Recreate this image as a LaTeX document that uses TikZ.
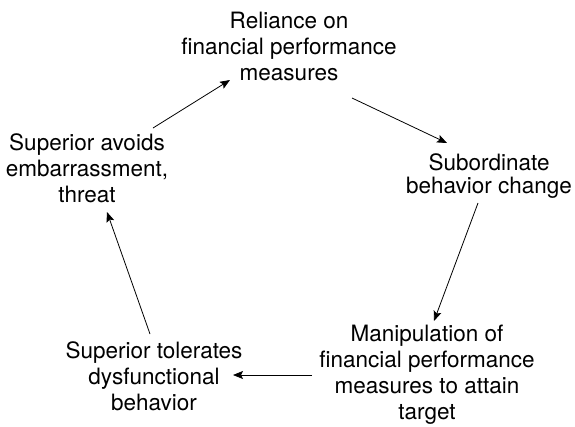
\documentclass[tikz,border=0pt]{standalone}
\usepackage{fontspec}
\setmainfont{TeX Gyre Heros}
\usetikzlibrary{arrows.meta}
\tikzset{
  label/.style={align=center, inner sep=0pt, font=\fontsize{22.5}{26}\selectfont},
  arr/.style={line width=0.8pt, -{Stealth[length=10pt,width=8pt,inset=2pt]}}
}
\begin{document}
\begin{tikzpicture}[x=1pt,y=-1pt]
  \useasboundingbox (0,0) rectangle (575,426);
  \node[label] (top)   at (289,46)  {Reliance on\\financial performance\\measures};
  \node[label, font=\fontsize{22.5}{23.5}\selectfont] (sub) at (489,176) {Subordinate\\behavior change};
  \node[label] (manip) at (427,375) {Manipulation of\\financial performance\\measures to attain\\target};
  \node[label] (tol)   at (154,376) {Superior tolerates\\dysfunctional\\behavior};
  \node[label] (avoid) at (87,168)  {Superior avoids\\embarrassment,\\threat};

  \draw[arr] ([shift={(63,52)}]top.center)    -- ([shift={(-42,-33)}]sub.center);
  \draw[arr] ([shift={(-11,27)}]sub.center)   -- ([shift={(7,-54)}]manip.center);
  \draw[arr] ([shift={(-115,0)}]manip.center) -- ([shift={(79,-1)}]tol.center);
  \draw[arr] ([shift={(-4,-42)}]tol.center)   -- ([shift={(20,44)}]avoid.center);
  \draw[arr] ([shift={(66,-40)}]avoid.center) -- ([shift={(-59,34)}]top.center);
\end{tikzpicture}
\end{document}
